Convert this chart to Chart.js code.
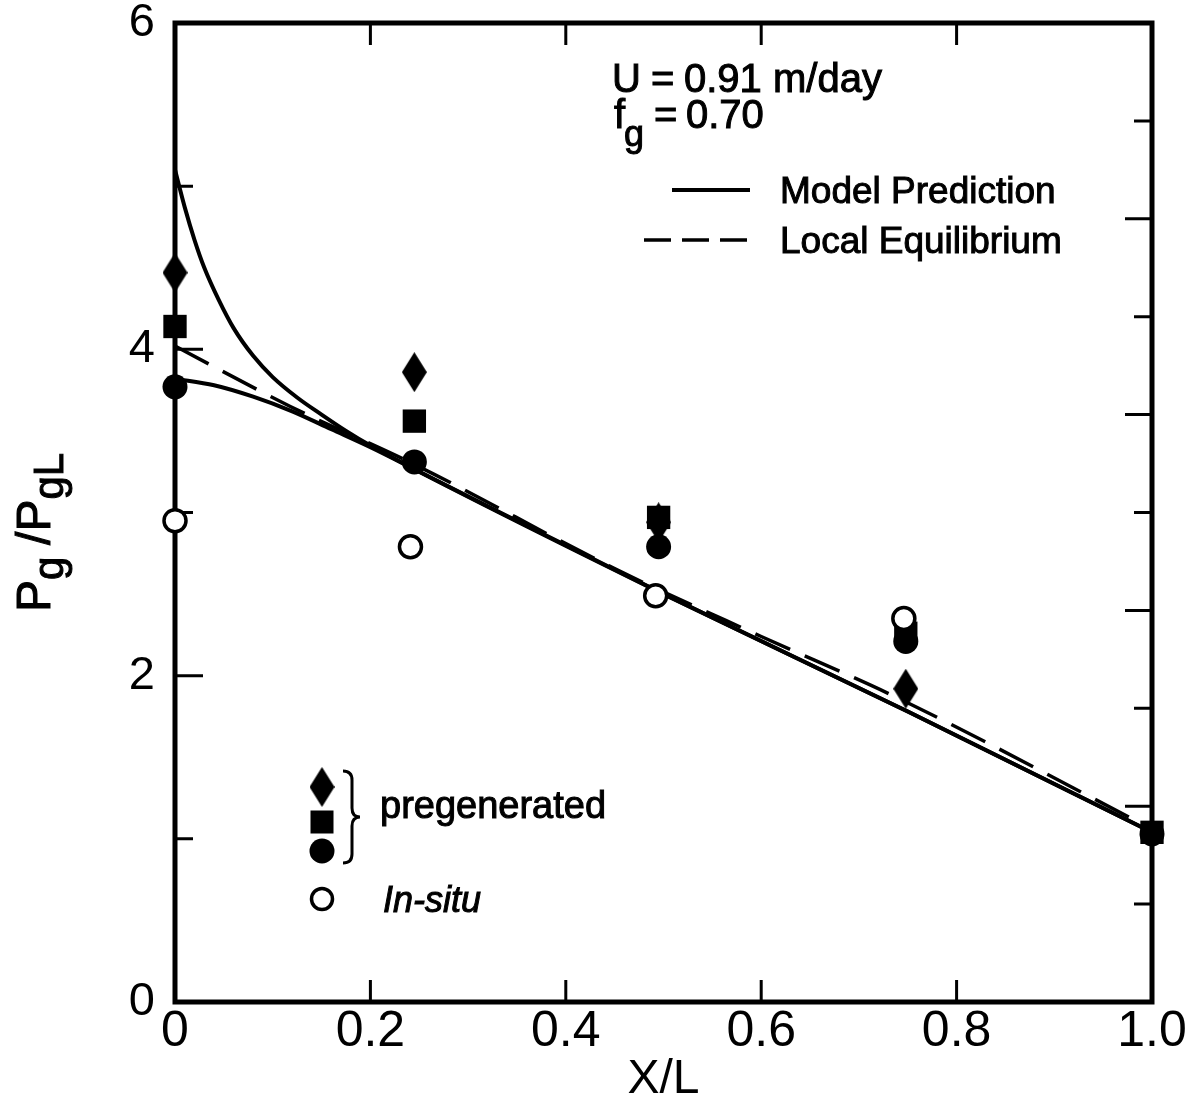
<!DOCTYPE html>
<html>
<head>
<meta charset="utf-8">
<script src="https://cdn.jsdelivr.net/npm/chart.js@4.4.0/dist/chart.umd.min.js"></script>
<style>
  html, body { margin: 0; padding: 0; background: #ffffff; }
  #wrap { width: 1195px; height: 1107px; position: relative; }
</style>
</head>
<body>
<div id="wrap"><canvas id="chart"></canvas></div>
<script>
// ---------- data ----------
const xTickValues = [0, 0.2, 0.4, 0.6, 0.8, 1.0];
const xTickLabels = ['0', '0.2', '0.4', '0.6', '0.8', '1.0'];
const yTickValues = [0, 2, 4, 6];
const yTickLabels = ['0', '2', '4', '6'];
const xInnerTicks = [0.2, 0.4, 0.6, 0.8];
const yLeftMajorTicks = [2, 4];
const yLeftMinorTicks = [1, 3, 5];
const yRightLongTicks = [1.2, 2.4, 3.6, 4.8];
const yRightShortTicks = [0.6, 1.8, 3.0, 4.2, 5.4];

// pregenerated foam (three symbols) and in-situ foam
const diamondX = [0, 0.245, 0.495, 0.748];
const diamondY = [4.47, 3.86, 2.94, 1.92];
const squareX = [0, 0.245, 0.495, 0.748, 1.0];
const squareY = [4.14, 3.56, 2.97, 2.26, 1.04];
const dotX = [0, 0.245, 0.495, 0.748, 1.0];
const dotY = [3.77, 3.31, 2.79, 2.21, 1.03];
const openX = [0, 0.241, 0.492, 0.746];
const openY = [2.95, 2.79, 2.49, 2.35];

// model prediction curves (upper and lower branch) and local equilibrium
const modelUpperX = [0, 0.01, 0.02, 0.03, 0.045, 0.06, 0.08, 0.1, 0.125, 0.15, 0.175, 0.2, 0.25, 0.5, 0.75, 1.0];
const modelUpperY = [5.10, 4.87, 4.67, 4.50, 4.30, 4.13, 3.96, 3.83, 3.705, 3.60, 3.50, 3.41, 3.25, 2.50, 1.78, 1.04];
const modelLowerX = [0, 0.04, 0.08, 0.12, 0.16, 0.2, 0.25, 0.5, 0.75, 1.0];
const modelLowerY = [3.82, 3.78, 3.71, 3.62, 3.51, 3.40, 3.25, 2.50, 1.78, 1.04];
const equilX = [0, 0.118, 0.25, 0.452, 0.6, 0.741, 1.0];
const equilY = [4.02, 3.65, 3.28, 2.65, 2.24, 1.86, 1.06];

// ---------- helpers ----------
const FONT = '"Liberation Sans", Arial, Helvetica, sans-serif';
const pts = (xs, ys) => xs.map((x, i) => ({ x: x, y: ys[i] }));

function makeDiamond(w, h) {
  const c = document.createElement('canvas');
  c.width = w; c.height = h;
  const g = c.getContext('2d');
  g.fillStyle = '#000';
  g.beginPath();
  g.moveTo(w / 2, 0); g.lineTo(w, h / 2); g.lineTo(w / 2, h); g.lineTo(0, h / 2);
  g.closePath(); g.fill();
  return c;
}
const diamondImg = makeDiamond(25, 40);

function lineSet(data, dash, width, order) {
  return {
    type: 'line', data: data, showLine: true, borderColor: '#000', borderWidth: width,
    borderDash: dash, pointRadius: 0, fill: false, cubicInterpolationMode: 'monotone',
    order: order, clip: false
  };
}

function heavyText(ctx, t, x, y) {
  ctx.fillText(t, x, y);
  ctx.strokeText(t, x, y);
}

// ---------- decorations plugin ----------
const decor = {
  id: 'decor',
  beforeDatasetsDraw(chart) {
    const ctx = chart.ctx, a = chart.chartArea, sx = chart.scales.x, sy = chart.scales.y;
    ctx.save();
    ctx.strokeStyle = '#000';
    ctx.lineCap = 'butt';
    ctx.lineWidth = 3;
    ctx.beginPath();
    xInnerTicks.forEach(v => {
      const x = sx.getPixelForValue(v);
      ctx.moveTo(x, a.bottom); ctx.lineTo(x, a.bottom - 22);
      ctx.moveTo(x, a.top); ctx.lineTo(x, a.top + 22);
    });
    yLeftMajorTicks.forEach(v => { const y = sy.getPixelForValue(v); ctx.moveTo(a.left, y); ctx.lineTo(a.left + 28, y); });
    yLeftMinorTicks.forEach(v => { const y = sy.getPixelForValue(v); ctx.moveTo(a.left, y); ctx.lineTo(a.left + 18, y); });
    yRightLongTicks.forEach(v => { const y = sy.getPixelForValue(v); ctx.moveTo(a.right, y); ctx.lineTo(a.right - 27, y); });
    yRightShortTicks.forEach(v => { const y = sy.getPixelForValue(v); ctx.moveTo(a.right, y); ctx.lineTo(a.right - 18, y); });
    ctx.stroke();
    ctx.lineWidth = 5;
    ctx.lineJoin = 'miter';
    ctx.strokeRect(a.left, a.top, a.right - a.left, a.bottom - a.top);
    ctx.restore();
  },
  afterDraw(chart) {
    const ctx = chart.ctx;
    ctx.save();
    ctx.fillStyle = '#000';
    ctx.strokeStyle = '#000';
    ctx.lineWidth = 1;
    ctx.textBaseline = 'alphabetic';
    ctx.textAlign = 'left';

    // y-axis title P_g /P_gL (rotated)
    ctx.save();
    ctx.translate(50, 612);
    ctx.rotate(-Math.PI / 2);
    let x = 0;
    const big = '48px ' + FONT, sub = '42px ' + FONT;
    ctx.font = big; heavyText(ctx, 'P', x, 0); x += ctx.measureText('P').width;
    ctx.font = sub; heavyText(ctx, 'g', x, 13); x += ctx.measureText('g ').width;
    ctx.font = big; heavyText(ctx, '/P', x, 0); x += ctx.measureText('/P').width;
    ctx.font = sub; heavyText(ctx, 'gL', x, 13);
    ctx.restore();

    // parameters
    ctx.font = '40px ' + FONT;
    heavyText(ctx, 'U', 612, 92);
    heavyText(ctx, '=', 651, 92);
    heavyText(ctx, '0.91 m/day', 684, 92);
    heavyText(ctx, 'f', 614, 128);
    heavyText(ctx, '=', 654, 128);
    heavyText(ctx, '0.70', 686, 128);
    ctx.font = '36px ' + FONT;
    heavyText(ctx, 'g', 624, 146);

    // line legend
    ctx.lineWidth = 4;
    ctx.beginPath(); ctx.moveTo(672, 190); ctx.lineTo(750, 190); ctx.stroke();
    ctx.lineWidth = 3.5;
    ctx.setLineDash([27, 11]);
    ctx.beginPath(); ctx.moveTo(644, 240); ctx.lineTo(750, 240); ctx.stroke();
    ctx.setLineDash([]);
    ctx.lineWidth = 1;
    ctx.font = '37px ' + FONT;
    heavyText(ctx, 'Model Prediction', 780, 203);
    heavyText(ctx, 'Local Equilibrium', 780, 253);

    // symbol legend
    ctx.drawImage(diamondImg, 322 - 12.5, 787 - 20);
    ctx.fillRect(322 - 11.5, 822 - 11.5, 23, 23);
    ctx.beginPath(); ctx.arc(322, 851, 12.5, 0, Math.PI * 2); ctx.fill();
    ctx.lineWidth = 3.5;
    ctx.fillStyle = '#fff';
    ctx.beginPath(); ctx.arc(322, 899, 10.5, 0, Math.PI * 2); ctx.fill(); ctx.stroke();
    ctx.fillStyle = '#000';
    // brace
    ctx.lineWidth = 3;
    ctx.beginPath();
    ctx.moveTo(343, 771);
    ctx.quadraticCurveTo(352, 771, 352, 780);
    ctx.lineTo(352, 808);
    ctx.quadraticCurveTo(352, 817, 360, 817);
    ctx.quadraticCurveTo(352, 817, 352, 826);
    ctx.lineTo(352, 854);
    ctx.quadraticCurveTo(352, 863, 343, 863);
    ctx.stroke();
    ctx.lineWidth = 1;
    ctx.font = '38px ' + FONT;
    heavyText(ctx, 'pregenerated', 380, 818);
    ctx.font = 'italic 36px ' + FONT;
    heavyText(ctx, 'In-situ', 383, 912);
    ctx.restore();
  }
};

// ---------- chart ----------
const chart = new Chart(document.getElementById('chart'), {
  type: 'scatter',
  data: {
    datasets: [
      lineSet(pts(modelUpperX, modelUpperY), [], 4, 10),
      lineSet(pts(modelLowerX, modelLowerY), [], 4, 10),
      lineSet(pts(equilX, equilY), [38, 16], 3.5, 10),
      { data: pts(dotX, dotY), pointStyle: 'circle', pointRadius: 12.5, backgroundColor: '#000', borderColor: '#000', borderWidth: 0, order: 4, clip: false },
      { data: pts(diamondX, diamondY), pointStyle: diamondImg, pointRadius: 12, order: 3, clip: false },
      { data: pts(squareX, squareY), pointStyle: 'rect', pointRadius: 16.5, backgroundColor: '#000', borderColor: '#000', borderWidth: 0, order: 2, clip: false },
      { data: pts(openX, openY), pointStyle: 'circle', pointRadius: 11, backgroundColor: '#fff', borderColor: '#000', borderWidth: 3.5, order: 1, clip: false }
    ]
  },
  options: {
    responsive: true,
    maintainAspectRatio: false,
    animation: false,
    events: [],
    layout: { padding: { left: 0, right: 43, top: 23, bottom: 0 } },
    plugins: { legend: { display: false }, tooltip: { enabled: false } },
    scales: {
      x: {
        type: 'linear', min: 0, max: 1,
        afterBuildTicks: s => { s.ticks = xTickValues.map(v => ({ value: v })); },
        ticks: {
          callback: (v, i) => xTickLabels[i], color: '#000', autoSkip: false, maxRotation: 0,
          font: { family: FONT, size: 50 }, padding: 0
        },
        grid: { display: false, drawTicks: false },
        border: { display: false },
        title: { display: true, text: 'X/L', color: '#000', font: { family: FONT, size: 48, lineHeight: 1 }, padding: { top: 0, bottom: 3 } },
        afterFit: s => { s.height = 105; s.paddingLeft = 0; s.paddingRight = 0; }
      },
      y: {
        type: 'linear', min: 0, max: 6,
        afterBuildTicks: s => { s.ticks = yTickValues.map(v => ({ value: v })); },
        ticks: {
          callback: (v, i) => yTickLabels[i], color: '#000', autoSkip: false,
          font: { family: FONT, size: 47 }, padding: 20
        },
        grid: { display: false, drawTicks: false },
        border: { display: false },
        afterFit: s => { s.width = 175; s.paddingTop = 0; s.paddingBottom = 0; }
      }
    }
  },
  plugins: [decor]
});
</script>
</body>
</html>
